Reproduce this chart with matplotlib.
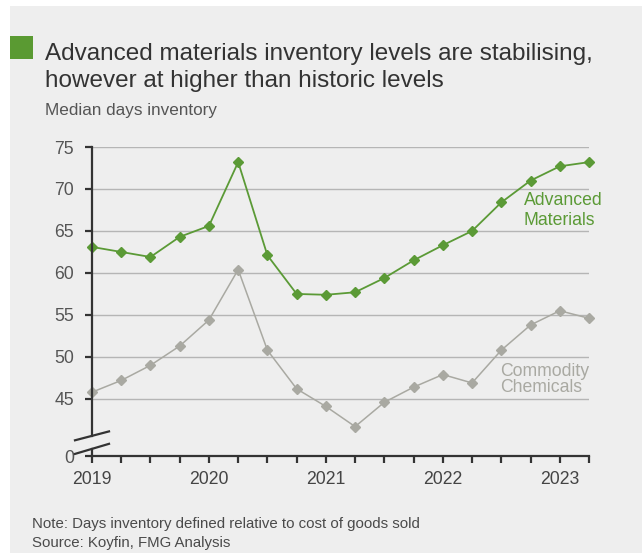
import matplotlib
matplotlib.use("Agg")
import matplotlib.pyplot as plt
from matplotlib.patches import Rectangle

plt.rcParams['font.family'] = ['Liberation Sans', 'DejaVu Sans']

# quarterly observations, 2019 Q1 .. 2023 Q2
quarters = ['2019Q1', '2019Q2', '2019Q3', '2019Q4',
            '2020Q1', '2020Q2', '2020Q3', '2020Q4',
            '2021Q1', '2021Q2', '2021Q3', '2021Q4',
            '2022Q1', '2022Q2', '2022Q3', '2022Q4',
            '2023Q1', '2023Q2']
advanced = [63.1, 62.5, 61.9, 64.3, 65.6, 73.2, 62.1, 57.5, 57.4,
            57.7, 59.4, 61.5, 63.3, 65.0, 68.4, 71.0, 72.7, 73.2]
commodity = [45.8, 47.2, 49.0, 51.3, 54.4, 60.4, 50.8, 46.2, 44.1,
             41.7, 44.6, 46.4, 47.9, 46.9, 50.8, 53.8, 55.5, 54.6]
year_labels = ['2019', '2020', '2021', '2022', '2023']
y_ticks = [45, 50, 55, 60, 65, 70, 75]

# quarter string -> decimal year position
xs = [int(q[:4]) + (int(q[5]) - 1) / 4 for q in quarters]

green = '#5b9a36'
grey = '#a9a9a2'
dark = '#333333'
text_col = '#4a4a4a'

fig = plt.figure(figsize=(6.42, 5.53), dpi=100)
fig.patch.set_facecolor('white')
fig.add_artist(Rectangle((10 / 642, 0), 1, (553 - 6) / 553, transform=fig.transFigure,
                         facecolor='#eeeeee', edgecolor='none', zorder=0))
fig.add_artist(Rectangle((10 / 642, (553 - 59) / 553), 23 / 642, 23 / 553,
                         transform=fig.transFigure, facecolor='#5a9a32',
                         edgecolor='none', zorder=1))

fig.text(45 / 642, 1 - 54 / 553, 'Advanced materials inventory levels are stabilising,',
         fontsize=17.5, color='#333333', va='center', ha='left')
fig.text(45 / 642, 1 - 81 / 553, 'however at higher than historic levels',
         fontsize=17.5, color='#333333', va='center', ha='left')
fig.text(45 / 642, 1 - 111 / 553, 'Median days inventory',
         fontsize=12.3, color='#555555', va='center', ha='left')
fig.text(32 / 642, 1 - 524 / 553, 'Note: Days inventory defined relative to cost of goods sold',
         fontsize=10.8, color=text_col, va='center', ha='left')
fig.text(32 / 642, 1 - 543 / 553, 'Source: Koyfin, FMG Analysis',
         fontsize=10.8, color=text_col, va='center', ha='left')

bottom = 38.2
ax = fig.add_axes([92 / 642, 97 / 553, 497 / 642, 309 / 553])
ax.set_facecolor('none')
ax.set_xlim(xs[0], xs[-1])
ax.set_ylim(bottom, 75)

for v in y_ticks:
    ax.axhline(v, color='#b5b5b5', lw=1.0, zorder=1)

ax.plot(xs, commodity, color=grey, lw=1.1, marker='D', ms=5, zorder=3, clip_on=False)
ax.plot(xs, advanced, color=green, lw=1.3, marker='D', ms=5, zorder=4, clip_on=False)

ax.text(2022.69, 67.4, 'Advanced\nMaterials', color=green, fontsize=12.7,
        ha='left', va='center', linespacing=1.22)
ax.text(2022.49, 47.3, 'Commodity\nChemicals', color=grey, fontsize=12.7,
        ha='left', va='center', linespacing=0.92)

for s in ['top', 'right', 'left']:
    ax.spines[s].set_visible(False)
ax.spines['bottom'].set_color(dark)
ax.spines['bottom'].set_linewidth(1.6)

# y axis drawn by hand with a break
brk_hi, brk_lo = 40.6, 39.05
ax.plot([xs[0], xs[0]], [brk_hi, 75], color=dark, lw=1.6, clip_on=False, zorder=5)
ax.plot([xs[0], xs[0]], [bottom, brk_lo], color=dark, lw=1.6, clip_on=False, zorder=5)
dx = 0.1455
ax.plot([xs[0] - dx, xs[0] + dx], [brk_hi - 0.53, brk_hi + 0.53], color=dark, lw=1.6,
        clip_on=False, zorder=6)
ax.plot([xs[0] - dx, xs[0] + dx], [brk_lo - 0.6, brk_lo + 0.6], color=dark, lw=1.6,
        clip_on=False, zorder=6)

ax.set_yticks([bottom] + y_ticks)
ax.set_yticklabels(['0'] + [str(v) for v in y_ticks])
ax.tick_params(axis='y', length=5, width=1.6, color=dark, pad=8, labelsize=12.7,
               labelcolor='#555555')

ax.set_xticks(xs, minor=True)
ax.set_xticks([xs[i] for i in range(0, len(xs), 4)])
ax.set_xticklabels(year_labels)
ax.tick_params(axis='x', which='both', length=5, width=1.6, color=dark, direction='out')
ax.tick_params(axis='x', which='major', pad=6, labelsize=12.7, labelcolor='#444444')

fig.savefig('out.png', dpi=100)
